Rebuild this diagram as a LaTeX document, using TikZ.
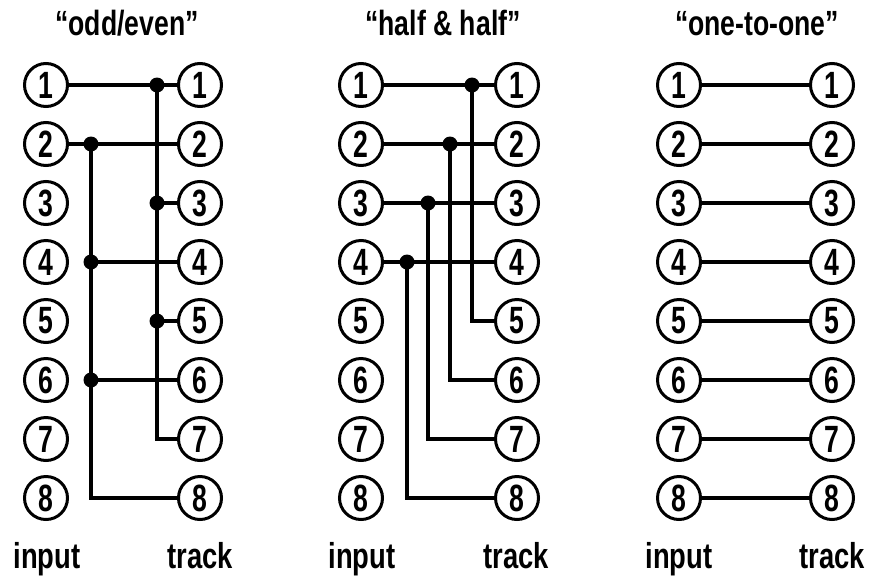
\documentclass[tikz,border=0pt]{standalone}
\usepackage{fontspec}
\newfontfamily\cond{Liberation Sans}[FakeStretch=0.76]
\newfontfamily\condn{Liberation Sans}[FakeStretch=0.7]
\begin{document}
\begin{tikzpicture}[x=1pt,y=-1pt,
  pin/.style={draw,circle,line width=3pt,minimum size=43pt,inner sep=0pt,
    font=\condn\bfseries\fontsize{38}{38}\selectfont},
  wire/.style={line width=3.2pt},
  jdot/.style={fill,circle,inner sep=0pt,minimum size=15pt},
  ttl/.style={anchor=base,font=\cond\bfseries\fontsize{35}{35}\selectfont},
  lbl/.style={anchor=base,font=\cond\bfseries\fontsize{36}{36}\selectfont}]
\useasboundingbox (0,0) rectangle (880,576);
% circles
\foreach \i in {1,...,8}{
  \node[pin] (a\i) at (46,{85+59*(\i-1)}) {\i};
  \node[pin] (b\i) at (200,{85+59*(\i-1)}) {\i};
  \node[pin] (c\i) at (361,{85+59*(\i-1)}) {\i};
  \node[pin] (d\i) at (517,{85+59*(\i-1)}) {\i};
  \node[pin] (e\i) at (679,{85+59*(\i-1)}) {\i};
  \node[pin] (f\i) at (832,{85+59*(\i-1)}) {\i};
}
% titles
\node[ttl] (t1) at (127,35) {“odd/even”};
\node[ttl] (t2) at (443,35) {“half \& half”};
\node[ttl] (t3) at (757,35) {“one-to-one”};
% labels
\node[lbl] (i1) at (47,568) {input};
\node[lbl] (o1) at (200,568) {track};
\node[lbl] (i2) at (362,568) {input};
\node[lbl] (o2) at (516,568) {track};
\node[lbl] (i3) at (679,568) {input};
\node[lbl] (o3) at (832,568) {track};
% panel 1: odd/even
\coordinate (j1) at (157,85);
\coordinate (j3) at (157,203);
\coordinate (j5) at (157,321);
\coordinate (k2) at (91,144);
\coordinate (k4) at (91,262);
\coordinate (k6) at (91,380);
\draw[wire] (a1) -- (b1);
\draw[wire] (j1) |- (b7);
\draw[wire] (j3) -- (b3);
\draw[wire] (j5) -- (b5);
\draw[wire] (a2) -- (b2);
\draw[wire] (k2) |- (b8);
\draw[wire] (k4) -- (b4);
\draw[wire] (k6) -- (b6);
\foreach \p in {j1,j3,j5,k2,k4,k6}{\node[jdot] at (\p) {};}
% panel 2: half & half
\coordinate (m1) at (472,85);
\coordinate (m2) at (450,144);
\coordinate (m3) at (428,203);
\coordinate (m4) at (407,262);
\draw[wire] (c1) -- (d1);
\draw[wire] (m1) |- (d5);
\draw[wire] (c2) -- (d2);
\draw[wire] (m2) |- (d6);
\draw[wire] (c3) -- (d3);
\draw[wire] (m3) |- (d7);
\draw[wire] (c4) -- (d4);
\draw[wire] (m4) |- (d8);
\foreach \p in {m1,m2,m3,m4}{\node[jdot] at (\p) {};}
% panel 3: one-to-one
\foreach \i in {1,...,8}{\draw[wire] (e\i) -- (f\i);}
\end{tikzpicture}
\end{document}
